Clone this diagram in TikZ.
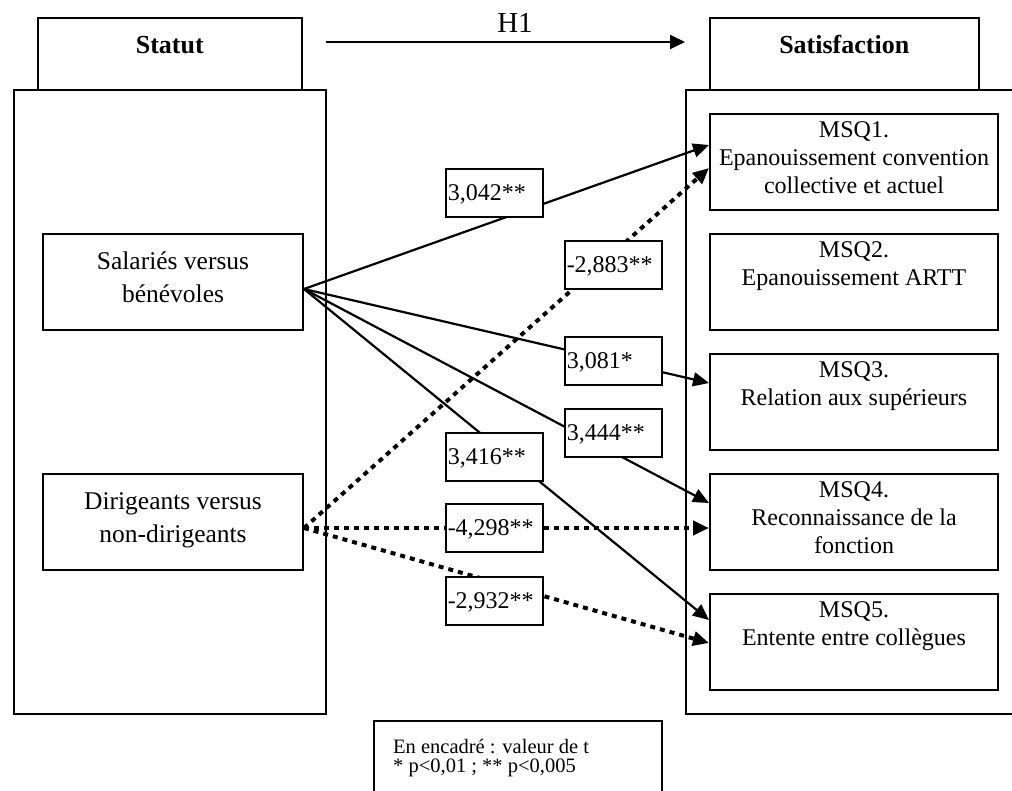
\documentclass[tikz,border=0pt]{standalone}
\usepackage{fontspec}
\setmainfont{Liberation Serif}
\usetikzlibrary{arrows.meta,calc}
\begin{document}
\begin{tikzpicture}[x=1pt,y=-1pt,
  frame/.style={draw, line width=1.5pt, inner sep=0pt, anchor=north west},
  box/.style={draw, line width=2pt, inner sep=0pt, anchor=north west},
  ttext/.style={anchor=base, inner sep=0pt, font=\fontsize{26}{30}\selectfont\bfseries},
  ltext/.style={anchor=base, inner sep=0pt, align=center, font=\fontsize{25.5}{33}\selectfont},
  mtext/.style={anchor=base, inner sep=0pt, align=center, font=\fontsize{24}{28}\selectfont},
  lab/.style={draw, fill=white, line width=1.5pt, anchor=north west, minimum height=48pt,
    text width=93pt, text height=18pt, text depth=2pt, inner xsep=2pt, inner ysep=0pt,
    align=left, font=\fontsize{24}{28}\selectfont},
  tip/.style={-{Triangle[length=16pt,width=14pt]}},
  sconn/.style={tip, line width=2.2pt},
  dconn/.style={tip, line width=4pt, dash pattern=on 5pt off 5pt},
  harrow/.style={-{Triangle[length=15pt,width=14pt]}, line width=2pt}]
\useasboundingbox (0,0) rectangle (1012,790);

% frames
\node[frame, minimum width=312pt, minimum height=624pt] (lf) at (13,89) {};
\node[frame, minimum width=330pt, minimum height=624pt] (rf) at (685,89) {};
\node[frame, minimum width=264pt, minimum height=72pt] (stat) at (37,17) {};
\node[frame, minimum width=269pt, minimum height=72pt] (sat) at (709,17) {};
\node[ttext] (statT) at ($(stat.north)+(0,36)$) {Statut};
\node[ttext] (satT) at ($(sat.north)+(0,36)$) {Satisfaction};

% H1
\node[anchor=base, inner sep=0pt, font=\fontsize{29}{30}\selectfont] (h1) at (515,32) {H1};
\coordinate (h1s) at (326,42);
\coordinate (h1e) at (685,42);
\draw[harrow] (h1s) -- (h1e);

% left boxes
\node[box, minimum width=260pt, minimum height=96pt] (sal) at (42,233) {};
\node[box, minimum width=260pt, minimum height=96pt] (dir) at (42,473) {};
\node[ltext] (salT) at ($(sal.north)+(0,69)$) {Salariés versus\\bénévoles};
\node[ltext] (dirT) at ($(dir.north)+(0,69)$) {Dirigeants versus\\non-dirigeants};

% right boxes
\node[box, minimum width=288pt, minimum height=96pt] (m1) at (709,113) {};
\node[box, minimum width=288pt, minimum height=96pt] (m2) at (709,233) {};
\node[box, minimum width=288pt, minimum height=96pt] (m3) at (709,353) {};
\node[box, minimum width=288pt, minimum height=96pt] (m4) at (709,473) {};
\node[box, minimum width=288pt, minimum height=96pt] (m5) at (709,593) {};
\node[mtext] (m1T) at ($(m1.north)+(0,80)$) {MSQ1.\\Epanouissement convention\\collective et actuel};
\node[mtext] (m2T) at ($(m2.north)+(0,52)$) {MSQ2.\\Epanouissement ARTT};
\node[mtext] (m3T) at ($(m3.north)+(0,52)$) {MSQ3.\\Relation aux supérieurs};
\node[mtext] (m4T) at ($(m4.north)+(0,80)$) {MSQ4.\\Reconnaissance de la\\fonction};
\node[mtext] (m5T) at ($(m5.north)+(0,52)$) {MSQ5.\\Entente entre collègues};

% connection points
\coordinate (sO) at ($(sal.east)+(0,7)$);
\coordinate (dO) at ($(dir.east)+(0,6)$);

% solid connectors
\draw[sconn] (sO) -- ($(m1.north west)+(0,32)$);
\draw[sconn] (sO) -- ($(m3.north west)+(0,30)$);
\draw[sconn] (sO) -- ($(m4.north west)+(0,30)$);
\draw[sconn] (sO) -- ($(m5.north west)+(0,27)$);

% dotted connectors
\draw[dconn] (dO) -- ($(m1.north west)+(0,55)$);
\draw[dconn] (dO) -- ($(m4.north west)+(0,55)$);
\draw[dconn] (dO) -- ($(m5.north west)+(0,50)$);

% value labels
\node[lab] (l1) at (445,168) {3,042**};
\node[lab] (l2) at (564,240) {-2,883**};
\node[lab] (l3) at (564,336) {3,081*};
\node[lab] (l4) at (564,408) {3,444**};
\node[lab] (l5) at (445,432) {3,416**};
\node[lab] (l6) at (445,503) {-4,298**};
\node[lab] (l7) at (445,576) {-2,932**};

% legend
\node[frame, minimum width=288pt, minimum height=90pt] (leg) at (373,720) {};
\node[anchor=base west, inner sep=0pt, align=left, font=\fontsize{20.5}{19}\selectfont] (legT) at ($(leg.north west)+(20,52)$) {En encadré : valeur de t\\* p<0,01 ; ** p<0,005};
\end{tikzpicture}
\end{document}
